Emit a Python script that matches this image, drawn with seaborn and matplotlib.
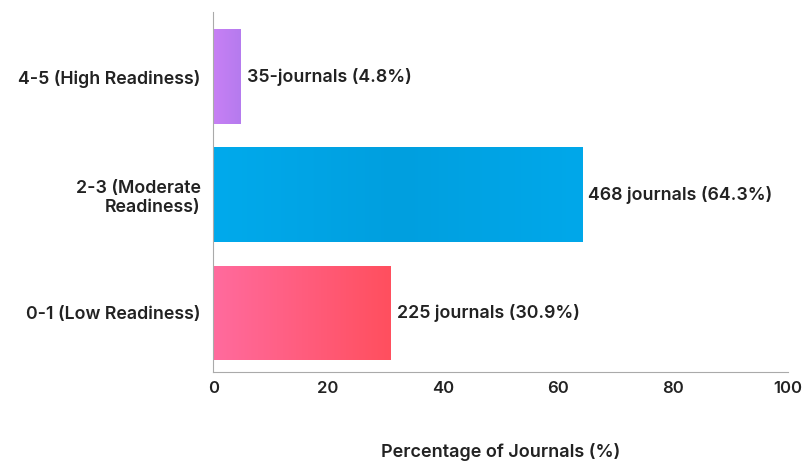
import numpy as np
import pandas as pd
import matplotlib
matplotlib.use("Agg")
import matplotlib.pyplot as plt
import seaborn as sns
from matplotlib.colors import LinearSegmentedColormap

# dados
categorias = ["0-1 (Low Readiness)", "2-3 (Moderate\nReadiness)", "4-5 (High Readiness)"]
percentuais = [30.9, 64.3, 4.8]
rotulos = ["225 journals (30.9%)", "468 journals (64.3%)", "35-journals (4.8%)"]
gradientes = [["#FF6B9E", "#FF4F5E"], ["#00AAEC", "#009FDF", "#00A8EA"], ["#C880F5", "#B57BEE"]]

sns.set_style("white")
plt.rcParams["font.family"] = ["Inter", "DejaVu Sans"]

df = pd.DataFrame({"cat": categorias, "pct": percentuais})

fig = plt.figure(figsize=(8.02, 4.62), dpi=100)
ax = fig.add_axes([0.266, 0.195, 0.716, 0.78])
sns.barplot(data=df, x="pct", y="cat", orient="h", ax=ax, width=0.8,
            color="#cccccc", order=categorias)
ax.invert_yaxis()  # primeira categoria em baixo

# preenche cada barra com gradiente horizontal
for patch, cores in zip(ax.patches, gradientes):
    x0, y0 = patch.get_x(), patch.get_y()
    w, h = patch.get_width(), patch.get_height()
    cmap = LinearSegmentedColormap.from_list("g", cores)
    img = ax.imshow(np.linspace(0, 1, 256).reshape(1, -1), cmap=cmap, aspect="auto",
                    extent=[x0, x0 + w, y0, y0 + h], zorder=patch.get_zorder() + 0.1)
    img.set_clip_path(patch)
    patch.set_facecolor("none")
    patch.set_edgecolor("none")

for i, (p, txt) in enumerate(zip(percentuais, rotulos)):
    ax.text(p + 1, i, txt, va="center", ha="left", fontsize=12.8,
            fontweight="semibold", color="#222222")

ax.set_xlim(0, 100)
ax.set_ylim(-0.5, 2.55)
ax.set_xticks([0, 20, 40, 60, 80, 100])
ax.tick_params(axis="x", labelsize=12, length=3, color="#999999", labelcolor="#222222")
ax.tick_params(axis="y", labelsize=12.8, length=0, pad=9, labelcolor="#222222")
for lab in ax.get_yticklabels() + ax.get_xticklabels():
    lab.set_fontweight("semibold")
for lab in ax.get_yticklabels():
    lab.set_multialignment("right")
ax.set_ylabel("")
ax.set_xlabel("Percentage of Journals (%)", fontsize=13, fontweight="semibold",
              labelpad=34, color="#222222")
sns.despine(ax=ax)
ax.spines["left"].set_color("#aaaaaa")
ax.spines["bottom"].set_color("#aaaaaa")

fig.savefig("out.png", dpi=100)
